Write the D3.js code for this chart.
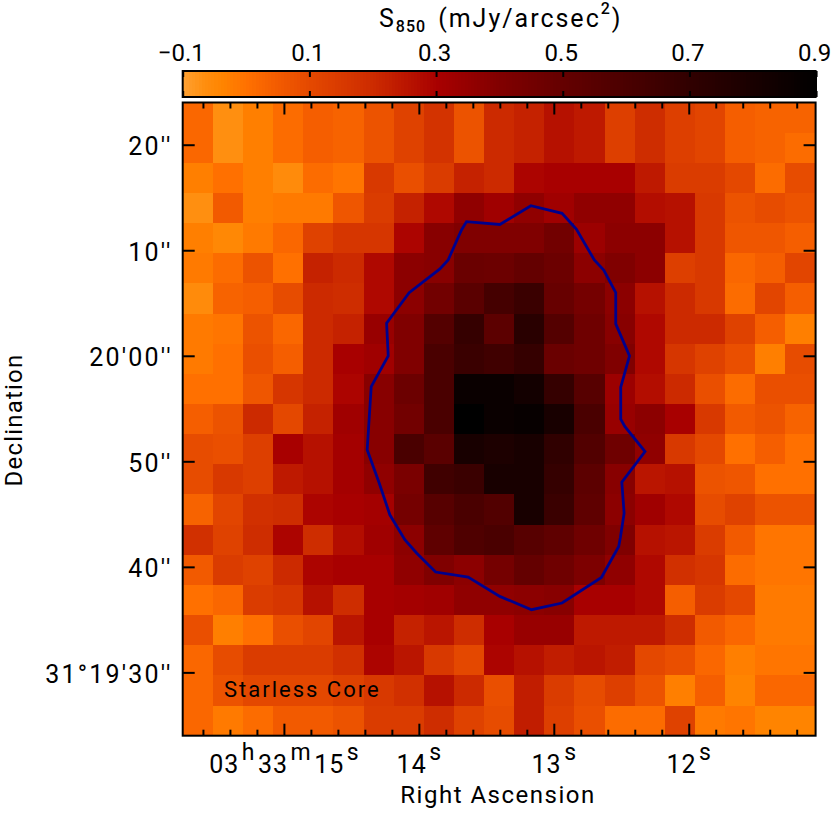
<!DOCTYPE html>
<html>
<head>
<meta charset="utf-8">
<script src="https://cdn.jsdelivr.net/npm/d3@7"></script>
<style>
  html, body { margin: 0; background: #fff; }
  svg { display: block; }
  text { font-family: Roboto, sans-serif; fill: #000; }
  .tick text { font-family: Roboto, sans-serif; }
</style>
</head>
<body>
<svg id="chart"></svg>
<script>
// S850 map, rows run from north (top) to south, columns from east (left) to west
const fluxRows = [
  [.02,-.07,-.03,.01,.04,.03,.07,.12,.17,.07,.20,.22,.26,.24,.13,.19,.13,.11,.04,.03,.03],
  [.02,-.07,-.03,.01,.04,.03,.07,.12,.17,.07,.20,.22,.26,.24,.13,.19,.13,.11,.04,.03,.01],
  [-.03,.00,-.03,-.06,.01,-.01,.15,.08,.14,.22,.20,.29,.30,.30,.30,.24,.14,.14,.10,.01,.09],
  [-.07,.05,-.03,-.02,-.02,.06,.14,.22,.28,.36,.32,.36,.32,.36,.36,.27,.26,.15,.07,.09,.07],
  [-.03,-.05,-.02,.02,.12,.16,.16,.29,.38,.40,.40,.40,.45,.33,.37,.37,.26,.15,.06,.06,.04],
  [-.02,.01,.07,.00,.22,.20,.28,.37,.38,.48,.47,.50,.47,.37,.40,.37,.13,.15,.02,.04,.11],
  [-.06,.03,.04,.09,.20,.19,.28,.37,.45,.54,.62,.66,.49,.44,.37,.26,.20,.15,.01,.11,.04],
  [-.02,-.01,.07,.02,.20,.22,.34,.40,.56,.68,.53,.73,.56,.46,.38,.28,.20,.20,.12,.04,-.03],
  [-.02,.00,.08,.04,.20,.30,.32,.40,.60,.66,.64,.68,.48,.46,.40,.28,.16,.12,.08,-.03,.09],
  [.00,.00,.06,.16,.20,.29,.38,.47,.60,.86,.86,.82,.68,.55,.33,.27,.20,.08,.01,.08,.08],
  [.04,.07,.20,.10,.22,.32,.38,.45,.60,.90,.86,.87,.80,.60,.34,.37,.30,.15,.05,.07,.03],
  [.09,.08,.13,.30,.26,.31,.38,.60,.54,.80,.78,.80,.70,.57,.46,.36,.15,.10,.00,.04,.00],
  [.09,.15,.13,.24,.26,.31,.36,.42,.64,.66,.80,.80,.68,.53,.38,.25,.26,.07,.06,.00,.00],
  [.03,.11,.18,.19,.29,.30,.31,.44,.55,.60,.57,.80,.66,.52,.37,.32,.28,.09,.12,.07,.07],
  [.18,.12,.19,.29,.19,.27,.32,.37,.52,.58,.60,.55,.52,.46,.40,.26,.25,.14,.05,-.01,-.01],
  [.05,.14,.12,.20,.29,.30,.30,.36,.40,.37,.44,.50,.46,.41,.36,.28,.18,.16,.01,-.01,-.01],
  [.00,.02,.14,.16,.26,.19,.30,.31,.32,.36,.36,.37,.38,.30,.30,.28,.04,.14,.10,-.02,-.02],
  [.08,-.03,.00,.08,.11,.25,.30,.22,.25,.19,.30,.34,.34,.24,.24,.24,.19,.05,.02,-.02,-.02],
  [.02,.09,.14,.14,.14,.18,.29,.25,.15,.10,.29,.26,.23,.25,.23,.10,.08,.02,-.03,-.01,-.01],
  [.02,.07,.10,.10,.10,.12,.15,.18,.26,.20,.08,.23,.14,.09,.13,.07,-.03,.04,-.04,.02,.02],
  [.02,-.02,.01,.05,.05,.07,.14,.14,.19,.12,.09,.23,.13,.08,.01,.01,.12,-.02,-.01,-.04,-.04]
];
// contour round the core: right ascension seconds, declination arcsec above 31d19'00"
const contourRa = [13.647,13.684,13.783,13.844,14.072,14.239,14.227,14.353,14.383,14.294,14.215,14.104,14.017,13.876,13.635,13.4,13.165,12.939,12.647,12.519,12.507,12.479,12.496,12.324,12.474,12.504,12.504,12.439,12.541,12.541,12.63,12.7,12.832,12.939,13.17,13.4];
const contourDec = [72.71,71.92,69.08,68.23,65.98,63.09,59.99,57.08,51.09,47.94,44.93,42.57,41.31,39.51,39.03,37.2,35.94,36.57,39,41.93,42.76,45.09,48.03,50.93,53.3,54,57.03,59.99,63.02,65.98,68.13,69.08,71.99,73.5,74.22,72.44];

const colorStops = [-0.1,-0.07,-0.04,0,0.05,0.1,0.2,0.3,0.4,0.5,0.7,0.9];
const colorValues = ["#ffa030","#ff8f10","#ff8400","#ff7000","#f25a00","#e44800","#cc2a00","#a80000","#800000","#640000","#300000","#000000"];

const barTicks = [-0.1,0.1,0.3,0.5,0.7,0.9];
const raMajor = [15,14,13,12];
const raLabels = [["03","h","33","m","15","s"],["14","s"],["13","s"],["12","s"]];
const raMinor = [15.6,15.4,15.2,14.8,14.6,14.4,14.2,13.8,13.6,13.4,13.2,12.8,12.6,12.4,12.2,11.8,11.6,11.4,11.2];
const decTicks = [30,40,50,60,70,80];
const decLabels = ["31\u00b019'30''","40''","50''","20'00''","10''","20''"];

const width = 831;
const height = 813;
const plot = {left: 182.7, right: 815.6, top: 102.5, bottom: 735.7};
const bar = {top: 71, bottom: 97};

const svg = d3.select("#chart").attr("width", width).attr("height", height);

const color = d3.scaleLinear().domain(colorStops).range(colorValues);
const x = d3.scaleLinear().domain([15.75, 11.06]).range([plot.left, plot.right]);
const y = d3.scaleLinear().domain([24, 84]).range([plot.bottom, plot.top]);
const col = d3.scaleBand().domain(d3.range(21)).range([plot.left, plot.right]);
const row = d3.scaleBand().domain(d3.range(21)).range([plot.top, plot.bottom]);
const barX = d3.scaleLinear().domain([-0.1, 0.9]).range([plot.left, plot.right + 0.5]);

// heat map
svg.append("g")
  .attr("shape-rendering", "crispEdges")
  .selectAll("g")
  .data(fluxRows)
  .join("g")
  .attr("transform", (d, i) => `translate(0,${row(i)})`)
  .selectAll("rect")
  .data(d => d)
  .join("rect")
    .attr("x", (d, j) => col(j))
    .attr("width", col.bandwidth() + 0.5)
    .attr("height", row.bandwidth() + 0.5)
    .attr("fill", d => color(d));

// contour
const line = d3.line()
  .x((d, i) => x(contourRa[i]))
  .y((d, i) => y(contourDec[i]))
  .curve(d3.curveLinearClosed);

svg.append("path")
  .attr("d", line(contourRa))
  .attr("fill", "none")
  .attr("stroke", "#00008c")
  .attr("stroke-width", 2.8);

svg.append("text")
  .attr("x", 224)
  .attr("y", 697)
  .attr("font-size", 22)
  .style("letter-spacing", "2px")
  .text("Starless Core");

// frame ticks, all drawn inward
const styleAxis = g => g.call(s => s.select(".domain").remove())
  .call(s => s.selectAll(".tick line").attr("stroke", "#000").attr("stroke-width", 2));

svg.append("g").attr("transform", `translate(0,${plot.bottom})`)
  .call(d3.axisBottom(x).tickValues(raMinor).tickSize(-6).tickFormat(""))
  .call(styleAxis);
svg.append("g").attr("transform", `translate(0,${plot.top})`)
  .call(d3.axisTop(x).tickValues(raMinor).tickSize(-6).tickFormat(""))
  .call(styleAxis);
svg.append("g").attr("transform", `translate(0,${plot.top})`)
  .call(d3.axisTop(x).tickValues(raMajor).tickSize(-12).tickFormat(""))
  .call(styleAxis);

const xAxis = svg.append("g").attr("transform", `translate(0,${plot.bottom})`)
  .call(d3.axisBottom(x).tickValues(raMajor).tickSize(-12).tickFormat(""))
  .call(styleAxis);

xAxis.selectAll(".tick text")
  .attr("y", 37)
  .attr("dy", 0)
  .attr("font-size", 25)
  .attr("text-anchor", "middle")
  .each(function (d, i) {
    const t = d3.select(this);
    raLabels[i].forEach((s, k) => {
      const sup = k % 2 === 1;
      t.append("tspan")
        .attr("dy", k === 0 ? 0 : (sup ? -13 : 13))
        .attr("dx", k === 0 ? 0 : 2.5)
        .attr("font-size", sup ? 23 : 25)
        .style("letter-spacing", "1px")
        .text(s);
    });
  });

svg.append("g").attr("transform", `translate(${plot.right},0)`)
  .call(d3.axisRight(y).tickValues(decTicks).tickSize(-12).tickFormat(""))
  .call(styleAxis);

svg.append("g").attr("transform", `translate(${plot.left},0)`)
  .call(d3.axisLeft(y).tickValues(decTicks).tickSize(-12).tickFormat((d, i) => decLabels[i]))
  .call(styleAxis)
  .call(s => s.selectAll(".tick text")
    .attr("x", -10)
    .attr("dy", 10)
    .attr("font-size", 25)
    .style("letter-spacing", "2.2px"));

svg.append("rect")
  .attr("x", plot.left).attr("y", plot.top)
  .attr("width", plot.right - plot.left).attr("height", plot.bottom - plot.top)
  .attr("fill", "none").attr("stroke", "#000").attr("stroke-width", 2);

// colour bar
svg.append("g")
  .attr("shape-rendering", "crispEdges")
  .selectAll("rect")
  .data(d3.range(0, 200).map(i => -0.1 + i * 0.005))
  .join("rect")
    .attr("x", d => barX(d))
    .attr("y", bar.top)
    .attr("width", barX(0.006) - barX(0))
    .attr("height", bar.bottom - bar.top)
    .attr("fill", d => color(d));

svg.append("g").attr("transform", `translate(0,${bar.top})`)
  .call(d3.axisTop(barX).tickValues(barTicks).tickSize(-6).tickFormat(d => d < 0 ? "\u22120.1" : d3.format(".1f")(d)))
  .call(styleAxis)
  .call(s => s.selectAll(".tick text")
    .attr("x", -2)
    .attr("y", -10)
    .attr("dy", 0)
    .attr("font-size", 24));

svg.append("g").attr("transform", `translate(0,${bar.bottom})`)
  .call(d3.axisBottom(barX).tickValues(barTicks).tickSize(-6).tickFormat(""))
  .call(styleAxis);

svg.append("rect")
  .attr("x", plot.left).attr("y", bar.top)
  .attr("width", plot.right - plot.left).attr("height", bar.bottom - bar.top)
  .attr("fill", "none").attr("stroke", "#000").attr("stroke-width", 2);

// titles
const title = svg.append("text")
  .attr("x", 379)
  .attr("y", 27)
  .attr("font-size", 25)
  .style("letter-spacing", "2px");
title.append("tspan").text("S");
title.append("tspan").attr("dy", 5).attr("dx", 0).attr("font-size", 16).attr("font-weight", 500).style("letter-spacing", "1px").text("850");
title.append("tspan").attr("dy", -5).attr("dx", 12).text("(mJy/arcsec");
title.append("tspan").attr("dy", -13).attr("font-size", 16).attr("font-weight", 500).text("2");
title.append("tspan").attr("dy", 13).text(")");

svg.append("text")
  .attr("x", 498)
  .attr("y", 803)
  .attr("text-anchor", "middle")
  .attr("font-size", 24)
  .style("letter-spacing", "1.5px")
  .text("Right Ascension");

svg.append("text")
  .attr("transform", "translate(22,420) rotate(-90)")
  .attr("text-anchor", "middle")
  .attr("font-size", 24)
  .style("letter-spacing", "1.2px")
  .text("Declination");
</script>
</body>
</html>
